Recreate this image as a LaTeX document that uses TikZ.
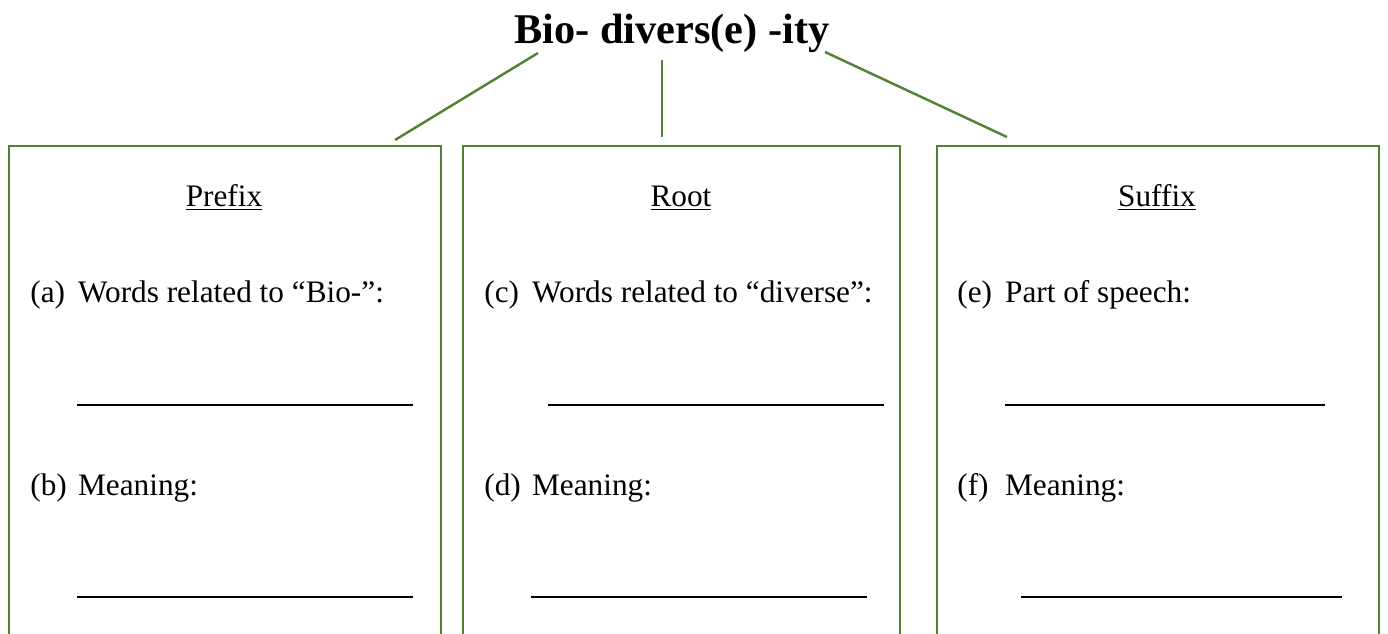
\documentclass[tikz,border=0pt]{standalone}
\usepackage{fontspec}
\setmainfont{Liberation Serif}
\usepackage{tikz}
\usetikzlibrary{positioning}
\definecolor{leafgreen}{HTML}{548235}

\newcommand{\qlabel}[2]{\makebox[27.2pt][l]{(#1)}#2}

\begin{document}
\begin{tikzpicture}[x=0.02cm,y=-0.02cm,
            box/.style={
              draw=leafgreen,
              line width=1.4pt,
              anchor=north west,
              inner sep=0pt,
              minimum height=10.8cm
            },
            head/.style={
              anchor=base,
              inner sep=0pt,
              font=\fontsize{17.8}{20}\selectfont
            },
            entry/.style={
              anchor=base west,
              inner sep=0pt,
              font=\fontsize{17.8}{20}\selectfont
            },
            blank/.style={black, line width=0.6pt},
            link/.style={leafgreen, line width=1.4pt}
            ]
            \useasboundingbox (0,0) rectangle (1388,634);
            \clip (0,0) rectangle (1388,634);
            \node[anchor=base,inner sep=0pt,font=\fontsize{24.1}{28}\selectfont\bfseries]
              (title) at (672,44) {Bio- divers(e) -ity};
            % three boxes
            \node[box,minimum width=8.64cm] (prefix) at (8,145) {};
            \node[box,minimum width=8.74cm] (root) at (462,145) {};
            \node[box,minimum width=8.84cm] (suffix) at (936,145) {};
            % link ends
            \coordinate (t1) at (538,53);
            \coordinate (t2) at (662,60);
            \coordinate (t3) at (825,52);
            \coordinate (b1) at (395,140);
            \coordinate (b2) at (662,137);
            \coordinate (b3) at (1007,137);
            \draw[link] (t1) -- (b1);
            \draw[link] (t2) -- (b2);
            \draw[link] (t3) -- (b3);
            % prefix
            \node[head] (prefixhead) at (224,207) {\underline{Prefix}};
            \node[entry] (qa) at (30,303) {\qlabel{a}{Words related to “Bio-”:}};
            \node[entry] (qb) at (30,495) {\qlabel{b}{Meaning:}};
            \draw[blank] (77,405) -- (413,405);
            \draw[blank] (77,597) -- (413,597);
            % root
            \node[head] (roothead) at (681,207) {\underline{Root}};
            \node[entry] (qc) at (484,303) {\qlabel{c}{Words related to “diverse”:}};
            \node[entry] (qd) at (484,495) {\qlabel{d}{Meaning:}};
            \draw[blank] (548,405) -- (884,405);
            \draw[blank] (531,597) -- (867,597);
            % suffix
            \node[head] (suffixhead) at (1157,207) {\underline{Suffix}};
            \node[entry] (qe) at (957,303) {\qlabel{e}{Part of speech:}};
            \node[entry] (qf) at (957,495) {\qlabel{f}{Meaning:}};
            \draw[blank] (1005,405) -- (1325,405);
            \draw[blank] (1021,597) -- (1342,597);
        \end{tikzpicture}
\end{document}
